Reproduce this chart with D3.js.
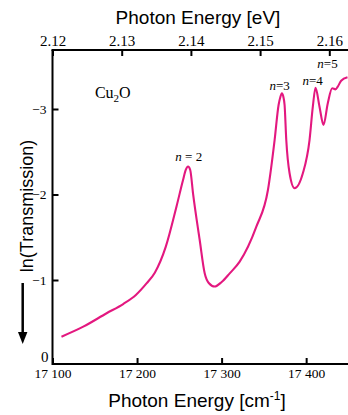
<!DOCTYPE html>
<html>
<head>
<meta charset="utf-8">
<script src="https://cdn.jsdelivr.net/npm/d3@7"></script>
<style>
  html, body { margin: 0; padding: 0; background: #fff; }
  svg { display: block; }
</style>
</head>
<body>
<svg id="chart" width="348" height="415"></svg>
<script>
// Cu2O absorption spectrum: -ln(Transmission) against photon energy
const wavenumbers = [17110.6, 17136.4, 17164, 17183.6, 17198.6, 17211.2, 17221, 17234, 17246.6,
  17254.4, 17257.6, 17260.3, 17262.9, 17266.2, 17274.1, 17280, 17284.8, 17291.9, 17300.1, 17309.6,
  17321.4, 17341.1, 17354.8, 17362.7, 17367.4, 17369.5, 17371.3, 17373.1, 17374.5, 17376.5, 17380.4,
  17386.3, 17396.1, 17404, 17407.9, 17411.1, 17415.8, 17420.5, 17425.6, 17430.8, 17434.7, 17437.4,
  17441.4, 17448.9];
const absorbance = [0.337, 0.454, 0.611, 0.719, 0.825, 0.96, 1.085, 1.39, 1.857,
  2.17, 2.287, 2.327, 2.287, 2.014, 1.468, 1.078, 0.965, 0.924, 0.977, 1.078,
  1.214, 1.623, 2.053, 2.637, 3.047, 3.14, 3.184, 3.14, 3.047, 2.637, 2.248,
  2.073, 2.248, 2.637, 3.027, 3.249, 3.027, 2.813, 3.067, 3.242, 3.23, 3.261,
  3.331, 3.371];

const bottomTicks = [17100, 17200, 17300, 17400];
const topTicks = [2.12, 2.13, 2.14, 2.15, 2.16];
const leftTicks = [0, 1, 2, 3];

// exciton line labels, anchored in data units
const peakNames = ["n = 2", "n=3", "n=4", "n=5"];
const peakIndex = ["2", "3", "4", "5"];
const peakCm = [17261.2, 17368.6, 17407.6, 17425.3];
const peakLevel = [2.392, 3.222, 3.281, 3.48];

const plotLeft = 52.5, plotRight = 348, plotTop = 50, plotBottom = 364;

const svg = d3.select("#chart");

const x = d3.scaleLinear().domain([17100, 17449.5]).range([plotLeft, plotRight]);
const xTop = d3.scaleLinear().domain([2.12, 2.16]).range([plotLeft, 329.3]);
const y = d3.scaleLinear().domain([0, 3.69]).range([365.5, plotTop]);

const serif = "'Liberation Serif', 'Times New Roman', serif";
const sans = "'Liberation Sans', Arial, sans-serif";

// spectrum curve
const pts = wavenumbers.map((w, i) => [w, absorbance[i]]);
const line = d3.line().x(d => x(d[0])).y(d => y(d[1])).curve(d3.curveMonotoneX);
svg.append("path")
  .datum(pts)
  .attr("d", line)
  .attr("fill", "none")
  .attr("stroke", "#e3187f")
  .attr("stroke-width", 2.1)
  .attr("stroke-linejoin", "round");

// axes
function styleAxis(g) {
  g.attr("font-family", null);
  g.select(".domain").remove();
  g.selectAll(".tick line").attr("stroke", "#000").attr("stroke-width", 2);
  g.selectAll(".tick text").attr("fill", "#000").style("font-family", serif);
}

const gb = svg.append("g").attr("transform", `translate(0,${plotBottom})`)
  .call(d3.axisBottom(x).tickValues(bottomTicks).tickSize(-6).tickPadding(4)
    .tickFormat(d => d3.format("d")(d).replace(/^(\d\d)/, "$1 ")));
styleAxis(gb);
gb.selectAll(".tick text").style("font-size", "13.5px");

const gt = svg.append("g").attr("transform", `translate(0,${plotTop})`)
  .call(d3.axisTop(xTop).tickValues(topTicks).tickSize(-6).tickPadding(4).tickFormat(d3.format(".2f")));
styleAxis(gt);
gt.selectAll(".tick text").style("font-size", "15px");

const gl = svg.append("g").attr("transform", `translate(${plotLeft},0)`)
  .call(d3.axisLeft(y).tickValues(leftTicks).tickSize(-6).tickPadding(6)
    .tickFormat(d => d === 0 ? "0" : "\u2212" + d));
styleAxis(gl);
gl.selectAll(".tick text").style("font-size", "13.5px");
gl.selectAll(".tick").filter(d => d === 0).each(function () {
  d3.select(this).select("line").remove();
  d3.select(this).select("text").style("font-size", "15px").attr("x", -4).attr("dy", "-0.25em");
});

// axis frame lines
svg.append("path")
  .attr("d", `M${plotLeft},${plotTop}V${plotBottom}H${plotRight}`)
  .attr("fill", "none").attr("stroke", "#000").attr("stroke-width", 2);
svg.append("path")
  .attr("d", `M${plotLeft - 1},${plotTop}H${plotRight}`)
  .attr("fill", "none").attr("stroke", "#000").attr("stroke-width", 2);

// axis titles
svg.append("text")
  .attr("x", 198).attr("y", 24)
  .attr("text-anchor", "middle")
  .style("font-family", sans).style("font-size", "19px")
  .text("Photon Energy [eV]");

const bt = svg.append("text")
  .attr("x", 197).attr("y", 407)
  .attr("text-anchor", "middle")
  .style("font-family", sans).style("font-size", "19px");
bt.append("tspan").text("Photon Energy [cm");
bt.append("tspan").style("font-size", "12px").attr("dy", -7).text("-1");
bt.append("tspan").attr("dy", 7).text("]");

svg.append("text")
  .attr("transform", "translate(33,206) rotate(-90)")
  .attr("text-anchor", "middle")
  .style("font-family", sans).style("font-size", "18px")
  .text("ln(Transmission)");

// downward arrow beside the vertical title
svg.append("line")
  .attr("x1", 22.7).attr("y1", 283).attr("x2", 22.7).attr("y2", 334)
  .attr("stroke", "#000").attr("stroke-width", 2.5);
svg.append("path")
  .attr("d", "M18,332L27.4,332L22.7,344Z")
  .attr("fill", "#000");

// sample label
const cu = svg.append("text")
  .attr("x", x(17150.2)).attr("y", y(3.129))
  .style("font-family", serif).style("font-size", "16px");
cu.append("tspan").text("Cu");
cu.append("tspan").style("font-size", "11px").attr("dy", 4).text("2");
cu.append("tspan").attr("dy", -4).text("O");

// exciton labels
peakNames.forEach((name, i) => {
  const t = svg.append("text")
    .attr("x", x(peakCm[i])).attr("y", y(peakLevel[i]))
    .attr("text-anchor", "middle")
    .style("font-family", serif).style("font-size", "13px");
  const spaced = name.includes(" ");
  t.append("tspan").style("font-style", "italic").text("n");
  t.append("tspan").text(spaced ? " = " + peakIndex[i] : "=" + peakIndex[i]);
});
</script>
</body>
</html>
